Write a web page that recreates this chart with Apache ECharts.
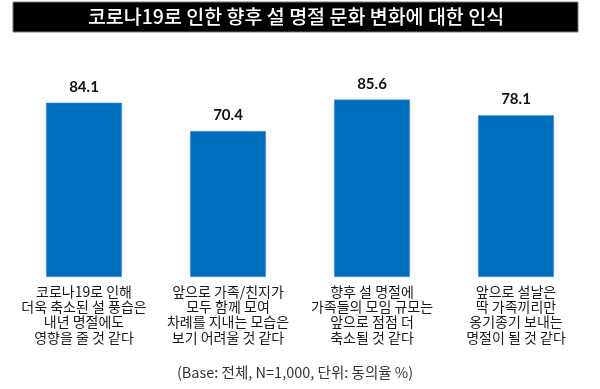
<!DOCTYPE html>
<html>
<head>
<meta charset="utf-8">
<script src="https://cdn.jsdelivr.net/npm/echarts@6/dist/echarts.min.js"></script>
<style>html,body{margin:0;padding:0;background:#fff}#c{width:600px;height:389px}</style>
</head>
<body>
<div id="c"></div>
<script>
const titleText = '코로나19로 인한 향후 설 명절 문화 변화에 대한 인식';
const footnote = '(Base: 전체, N=1,000, 단위: 동의율 %)';
const categories = [
  '코로나19로 인해\n더욱 축소된 설 풍습은\n내년 명절에도\n영향을 줄 것 같다',
  '앞으로 가족/친지가\n모두 함께 모여\n차례를 지내는 모습은\n보기 어려울 것 같다',
  '향후 설 명절에\n가족들의 모임 규모는\n앞으로 점점 더\n축소될 것 같다',
  '앞으로 설날은\n딱 가족끼리만\n옹기종기 보내는\n명절이 될 것 같다'
];
const values = [84.1, 70.4, 85.6, 78.1];

const chart = echarts.init(document.getElementById('c'), null, {renderer: 'canvas'});
const KR = '"Noto Sans CJK KR", "Noto Sans", sans-serif';
chart.setOption({
  animation: false,
  backgroundColor: '#ffffff',
  grid: {left: 12, right: 12, top: 69.7, bottom: 112, containLabel: false},
  xAxis: {
    type: 'category',
    data: categories,
    axisLine: {show: false},
    axisTick: {show: false},
    axisLabel: {
      interval: 0,
      margin: 7,
      fontFamily: KR,
      fontSize: 14,
      lineHeight: 15.2,
      color: '#1a1a1a',
      align: 'center'
    }
  },
  yAxis: {
    type: 'value',
    min: 0,
    max: 100,
    show: false,
    splitLine: {show: false}
  },
  series: [{
    type: 'bar',
    data: values,
    barWidth: 76,
    itemStyle: {color: '#006ebe', borderColor: '#4b9ad6', borderWidth: 0.6},
    label: {
      show: true,
      position: 'top',
      distance: 8,
      fontFamily: 'Lato, "Noto Sans", sans-serif',
      fontWeight: 'bold',
      fontSize: 15,
      color: '#111111',
      formatter: p => p.value.toFixed(1)
    }
  }],
  graphic: [
    {
      type: 'rect',
      shape: {x: 13, y: 2, width: 565, height: 30},
      style: {fill: '#000000', stroke: '#777777', lineWidth: 1},
      z: 1
    },
    {
      type: 'text',
      x: 296, y: 17,
      style: {
        text: titleText,
        fill: '#ffffff',
        font: '500 19.5px "Noto Sans CJK KR", sans-serif',
        align: 'center',
        verticalAlign: 'middle'
      },
      z: 2
    },
    {
      type: 'text',
      x: 295, y: 372,
      style: {
        text: footnote,
        fill: '#333333',
        font: '14.5px "Noto Sans CJK KR", sans-serif',
        align: 'center',
        verticalAlign: 'middle'
      }
    }
  ]
});
</script>
</body>
</html>
